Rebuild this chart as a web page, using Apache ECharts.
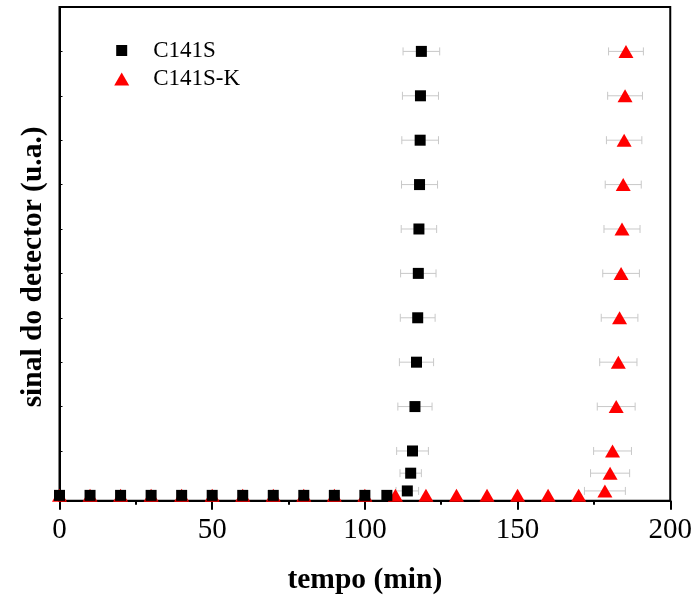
<!DOCTYPE html>
<html>
<head>
<meta charset="utf-8">
<script src="https://cdn.jsdelivr.net/npm/echarts@6/dist/echarts.min.js"></script>
<style>html,body{margin:0;padding:0;background:#fff}#c{width:695px;height:601px}</style>
</head>
<body>
<div id="c"></div>
<script>
// C141S (black squares)
var c141sX   = [0,10,20,30,40,50,60,70,80,90,100,107.2,113.9,115.0,115.6,116.4,116.9,117.3,117.5,117.7,117.9,118.1,118.2,118.5];
var c141sY   = [0,0,0,0,0,0,0,0,0,0,0,0,0.1,0.5,1,2,3,4,5,6,7,8,9,10];
var c141sErr = [0,0,0,0,0,0,0,0,0,0,0,0,3.7,3.5,5.2,5.6,5.6,5.7,5.8,5.8,5.9,6.0,5.9,6.0];
// C141S-K (red triangles)
var c141skX   = [0,10,20,30,40,50,60,70,80,90,100,110,120,130,140,150,160,170,178.6,180.3,181.1,182.3,183.0,183.4,183.9,184.2,184.6,184.9,185.2,185.5];
var c141skY   = [0,0,0,0,0,0,0,0,0,0,0,0,0,0,0,0,0,0,0.1,0.5,1,2,3,4,5,6,7,8,9,10];
var c141skErr = [0,0,0,0,0,0,0,0,0,0,0,0,0,0,0,0,0,0,6.7,6.4,6.2,6.2,6.1,6.0,6.0,5.9,5.9,5.8,5.7,5.7];
var xTicks = [0,50,100,150,200];
var yTicks = [1,2,3,4,5,6,7,8,9,10];

function pts(xs, ys){ return xs.map(function(x,i){ return [x, ys[i]]; }); }
function errPts(xs, ys, es){
  var out=[];
  xs.forEach(function(x,i){ if(es[i]>0) out.push([x, ys[i], es[i]]); });
  return out;
}
function errRender(params, api){
  var x=api.value(0), y=api.value(1), e=api.value(2);
  var a=api.coord([x-e,y]), b=api.coord([x+e,y]);
  var st={stroke:'#c8c8c8', lineWidth:1};
  var h=4;
  return {type:'group', children:[
    {type:'line', shape:{x1:a[0],y1:a[1],x2:b[0],y2:b[1]}, style:st},
    {type:'line', shape:{x1:a[0],y1:a[1]-h,x2:a[0],y2:a[1]+h}, style:st},
    {type:'line', shape:{x1:b[0],y1:b[1]-h,x2:b[0],y2:b[1]+h}, style:st}
  ]};
}
var FONT='Liberation Serif';
var chart=echarts.init(document.getElementById('c'),null,{renderer:'canvas'});
chart.setOption({
  animation:false,
  backgroundColor:'#fff',
  grid:{left:59.5,right:24,top:7,bottom:100.3,show:true,borderColor:'#000',borderWidth:2,backgroundColor:'transparent'},
  legend:[
    {data:['C141S'],left:116.2,top:39,padding:0,itemWidth:11,itemHeight:11,
     textStyle:{fontFamily:FONT,fontSize:23,color:'#000',padding:[0,0,0,21]}},
    {data:['C141S-K'],left:114.2,top:67.5,padding:0,itemWidth:15,itemHeight:13,
     textStyle:{fontFamily:FONT,fontSize:23,color:'#000',padding:[0,0,0,19]}}
  ],
  xAxis:{type:'value',min:xTicks[0],max:xTicks[xTicks.length-1],interval:50,
    name:'tempo (min)',nameLocation:'middle',nameGap:65,
    nameTextStyle:{fontFamily:FONT,fontSize:29.5,fontWeight:'bold',color:'#000'},
    axisLine:{onZero:false,lineStyle:{color:'#000',width:2}},
    axisTick:{show:true,inside:false,length:9,lineStyle:{color:'#000',width:2}},
    minorTick:{show:true,splitNumber:2,length:4,lineStyle:{color:'#000',width:2}},
    axisLabel:{fontFamily:FONT,fontSize:29,color:'#000',margin:15},
    splitLine:{show:false}},
  yAxis:{type:'value',min:-0.12,max:11,
    name:'sinal do detector (u.a.)',nameLocation:'middle',nameGap:11,nameRotate:90,
    nameTextStyle:{fontFamily:FONT,fontSize:29.5,fontWeight:'bold',color:'#000',padding:[0,26,0,0]},
    axisLine:{show:true,onZero:false,lineStyle:{color:'#000',width:2}},
    axisTick:{show:true,inside:true,length:3,customValues:yTicks,lineStyle:{color:'#000',width:1}},
    axisLabel:{show:false},
    splitLine:{show:false}},
  series:[
    {type:'custom',name:'errK',renderItem:errRender,data:errPts(c141skX,c141skY,c141skErr),z:1,silent:true},
    {type:'custom',name:'errS',renderItem:errRender,data:errPts(c141sX,c141sY,c141sErr),z:1,silent:true},
    {type:'scatter',name:'C141S-K',symbol:'triangle',symbolSize:[15,13],data:pts(c141skX,c141skY),
     itemStyle:{color:'#ff0000',opacity:1},z:2},
    {type:'scatter',name:'C141S',symbol:'rect',symbolSize:11,data:pts(c141sX,c141sY),
     itemStyle:{color:'#000000',opacity:1},z:3}
  ]
});
</script>
</body>
</html>
